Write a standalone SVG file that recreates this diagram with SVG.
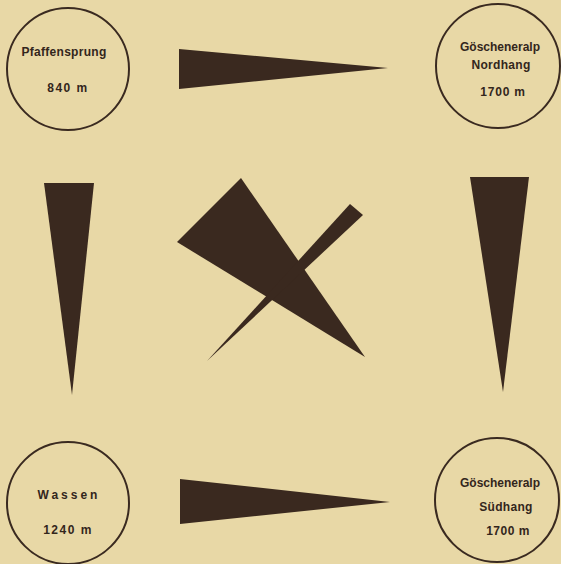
<svg xmlns="http://www.w3.org/2000/svg" width="561" height="564" viewBox="0 0 561 564">
<style>
.c{fill:none;stroke:#3a2a20;stroke-width:2}
.t{font-family:"Liberation Sans",Arial,sans-serif;font-weight:bold;font-size:12px;fill:#33261c;text-anchor:middle}
.s{fill:#3a291f}
</style>
<rect width="561" height="564" fill="#e8d8a6"/>
<g id="pfaffensprung">
<circle class="c" cx="68" cy="69" r="61"/>
<text class="t" x="64" y="56" letter-spacing="0.3">Pfaffensprung</text>
<text class="t" x="68" y="92" letter-spacing="1.5">840  m</text>
</g>
<g id="goeschenen-nord">
<circle class="c" cx="498" cy="66" r="62"/>
<text class="t" x="500" y="51">Göscheneralp</text>
<text class="t" x="501" y="69" letter-spacing="0.3">Nordhang</text>
<text class="t" x="503" y="96" letter-spacing="0.8">1700  m</text>
</g>
<g id="wassen">
<circle class="c" cx="68" cy="503" r="61"/>
<text class="t" x="69" y="499" letter-spacing="3">Wassen</text>
<text class="t" x="68" y="534" letter-spacing="1.5">1240  m</text>
</g>
<g id="goeschenen-sued">
<circle class="c" cx="497" cy="500" r="62"/>
<text class="t" x="500" y="487">Göscheneralp</text>
<text class="t" x="506" y="511" letter-spacing="0.3">Südhang</text>
<text class="t" x="508" y="535" letter-spacing="0.5">1700  m</text>
</g>
<g id="connectors">
<polygon class="s" points="179,49 179,89 388,68"/>
<polygon class="s" points="180,479 180,524 390,502"/>
<polygon class="s" points="44,183 94,183 72,395"/>
<polygon class="s" points="470,177 529,177 503,392"/>
<polygon class="s" points="241,178 177,242 365,357"/>
<polygon class="s" points="350,204 363,215 207,361"/>
</g>
</svg>
